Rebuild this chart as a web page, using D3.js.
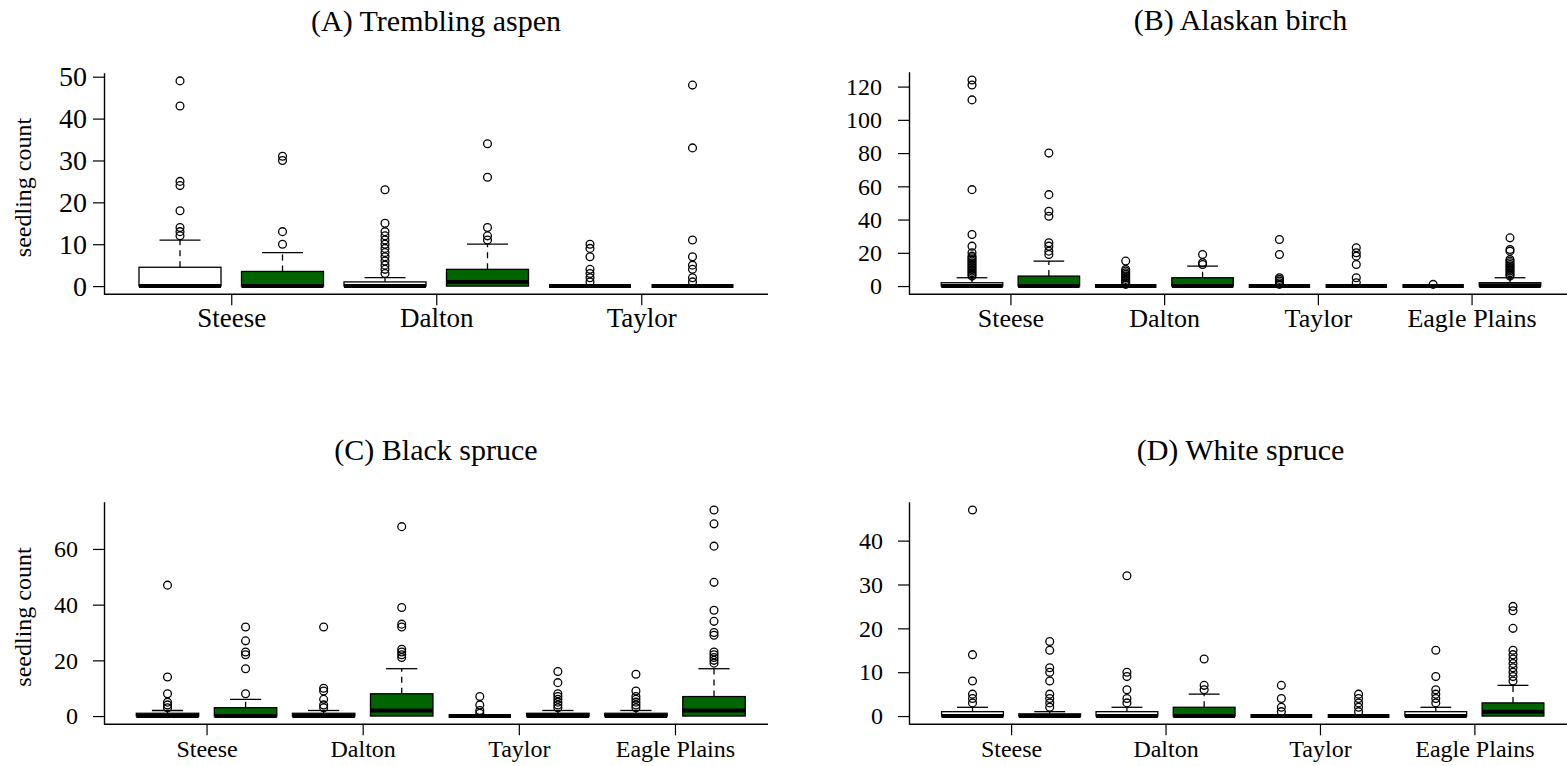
<!DOCTYPE html>
<html>
<head>
<meta charset="utf-8">
<script src="https://cdn.jsdelivr.net/npm/d3@7"></script>
<style>
  body { margin: 0; background: #fff; }
  svg { display: block; font-family: "Liberation Serif", "Times New Roman", serif; }
</style>
</head>
<body>
<svg id="chart" width="1567" height="766"></svg>
<script>
// 1. DATA -------------------------------------------------------------
// every site has two boxes: white first, then green
const sites3 = ["Steese", "Dalton", "Taylor"];
const sites4 = ["Steese", "Dalton", "Taylor", "Eagle Plains"];

// (A) Trembling aspen
const aspenTicks = [0, 10, 20, 30, 40, 50];
const aspenQ1  = [0, 0, 0, 0, 0, 0];
const aspenMed = [0, 0, 0, 1, 0, 0];
const aspenQ3  = [4.5, 3.5, 1, 4, 0, 0];
const aspenHi  = [11, 8, 2, 10, 0, 0];
const aspenOut = [
  [12, 13, 14, 18, 24, 25, 43, 49],
  [10, 13, 30, 31],
  [3, 4, 5, 6, 7, 8, 9, 10, 11, 12, 13, 15, 23],
  [11, 12, 14, 26, 34],
  [1, 2, 3, 4, 7, 9, 10],
  [1, 2, 4, 5, 7, 11, 33, 48]
];

// (B) Alaskan birch
const birchTicks = [0, 20, 40, 60, 80, 100, 120];
const birchQ1  = [0, 0, 0, 0, 0, 0, 0, 0];
const birchMed = [0, 0, 0, 0, 0, 0, 0, 0];
const birchQ3  = [2, 6, 0, 5, 0, 0, 0, 2];
const birchHi  = [5, 15, 0, 12, 0, 0, 0, 5];
const birchOut = [
  [6, 7, 8, 9, 10, 11, 12, 13, 14, 15, 16, 17, 18, 20, 24, 31, 58, 112, 121, 124],
  [19, 21, 24, 26, 42, 45, 55, 80],
  [1, 2, 3, 4, 5, 6, 7, 8, 9, 10, 15],
  [13, 14, 19],
  [1, 2, 3, 4, 5, 19, 28],
  [2, 5, 13, 18, 20, 23],
  [1],
  [6, 7, 8, 9, 10, 11, 12, 13, 14, 15, 16, 21, 22, 29]
];

// (C) Black spruce
const blackTicks = [0, 20, 40, 60];
const blackQ1  = [0, 0, 0, 0, 0, 0, 0, 0];
const blackMed = [0, 0, 0, 2, 0, 0, 0, 2];
const blackQ3  = [1, 3, 1, 8, 0, 1, 1, 7];
const blackHi  = [2, 6, 2, 17, 0, 2, 2, 17];
const blackOut = [
  [3, 4, 5, 8, 14, 47],
  [8, 17, 22, 23, 27, 32],
  [3, 4, 6, 9, 10, 32],
  [21, 22, 23, 24, 32, 33, 39, 68],
  [1, 2, 4, 7],
  [3, 4, 5, 6, 7, 8, 12, 16],
  [3, 4, 5, 6, 7, 9, 15],
  [19, 20, 21, 22, 23, 29, 30, 34, 38, 48, 61, 69, 74]
];

// (D) White spruce
const whiteTicks = [0, 10, 20, 30, 40];
const whiteQ1  = [0, 0, 0, 0, 0, 0, 0, 0];
const whiteMed = [0, 0, 0, 0, 0, 0, 0, 1];
const whiteQ3  = [1, 0.5, 1, 2, 0, 0, 1, 3];
const whiteHi  = [2, 1, 2, 5, 0, 0, 2, 7];
const whiteOut = [
  [3, 4, 5, 8, 14, 47],
  [2, 3, 4, 5, 8, 10, 11, 15, 17],
  [3, 4, 6, 9, 10, 32],
  [6, 7, 13],
  [1, 2, 4, 7],
  [1, 2, 3, 4, 5],
  [3, 4, 5, 6, 9, 15],
  [8, 9, 10, 11, 12, 13, 14, 15, 20, 24, 25]
];

// 2. PANEL LAYOUT -----------------------------------------------------
const fills = ["white", "#006400"];
const panels = [
  { title: "(A) Trembling aspen", sites: sites3, ticks: aspenTicks,
    q1: aspenQ1, med: aspenMed, q3: aspenQ3, hi: aspenHi, out: aspenOut,
    left: 104, right: 768, first: 180, last: 692.5, top: 72.7, bottom: 294.3,
    ylab: true, tickFont: 28, tickPad: 6, labFont: 27 },
  { title: "(B) Alaskan birch", sites: sites4, ticks: birchTicks,
    q1: birchQ1, med: birchMed, q3: birchQ3, hi: birchHi, out: birchOut,
    left: 909, right: 1572, first: 972, last: 1510, top: 71.7, bottom: 294.3,
    ylab: false, tickFont: 24, tickPad: 16, labFont: 26 },
  { title: "(C) Black spruce", sites: sites4, ticks: blackTicks,
    q1: blackQ1, med: blackMed, q3: blackQ3, hi: blackHi, out: blackOut,
    left: 104, right: 768, first: 167.5, last: 714, top: 501.7, bottom: 724.3,
    ylab: true, tickFont: 24, tickPad: 15, labFont: 24 },
  { title: "(D) White spruce", sites: sites4, ticks: whiteTicks,
    q1: whiteQ1, med: whiteMed, q3: whiteQ3, hi: whiteHi, out: whiteOut,
    left: 909, right: 1572, first: 972.5, last: 1513, top: 501.7, bottom: 724.3,
    ylab: false, tickFont: 24, tickPad: 15, labFont: 24 }
];

const svg = d3.select("#chart");

panels.forEach(p => {
  const n = p.q3.length;
  const g = svg.append("g");

  const yMax = d3.max(p.out, d => d3.max(d));
  const y = d3.scaleLinear()
      .domain([-0.04 * yMax, 1.04 * yMax])
      .range([p.bottom, p.top]);

  const x = d3.scaleLinear()
      .domain([1, n])
      .range([p.first, p.last]);

  const unit = (p.last - p.first) / (n - 1);
  const bw = unit * 0.8;

  // y axis (its domain line doubles as the left frame line)
  const yAxis = g.append("g")
      .attr("transform", `translate(${p.left},0)`)
      .call(d3.axisLeft(y).tickValues(p.ticks).tickSize(11).tickPadding(p.tickPad).tickSizeOuter(0))
      .attr("font-family", null).attr("font-size", null);
  yAxis.select(".domain").attr("stroke-width", 1.4);
  yAxis.selectAll(".tick line").attr("stroke-width", 1.2);
  yAxis.selectAll("text").style("font-size", p.tickFont + "px").attr("fill", "#000");

  // bottom frame line + site ticks
  g.append("line")
      .attr("x1", p.left).attr("x2", p.right)
      .attr("y1", p.bottom).attr("y2", p.bottom)
      .attr("stroke", "#000").attr("stroke-width", 1.4);

  const xAxis = g.append("g")
      .attr("transform", `translate(0,${p.bottom})`)
      .call(d3.axisBottom(x)
        .tickValues(p.sites.map((s, i) => 1.5 + 2 * i))
        .tickFormat((d, i) => p.sites[i])
        .tickSize(11))
      .attr("font-family", null).attr("font-size", null);
  xAxis.select(".domain").remove();
  xAxis.selectAll(".tick line").attr("stroke-width", 1.2);
  xAxis.selectAll("text")
      .attr("y", 32.6).attr("dy", 0)
      .style("font-size", p.labFont + "px").attr("fill", "#000");

  // title
  g.append("text")
      .attr("x", (p.left + p.right) / 2)
      .attr("y", p.top - 42)
      .attr("text-anchor", "middle")
      .style("font-size", "30px")
      .text(p.title);

  if (p.ylab) {
    g.append("text")
      .attr("transform", `translate(31,${(p.top + p.bottom) / 2 + 4}) rotate(-90)`)
      .attr("text-anchor", "middle")
      .style("font-size", "24px")
      .text("seedling count");
  }

  // boxes
  const idx = d3.range(n);
  const box = g.selectAll(".box").data(idx).enter().append("g").attr("class", "box");

  // upper whisker (dashed) and staple
  box.append("line")
      .attr("x1", i => x(i + 1)).attr("x2", i => x(i + 1))
      .attr("y1", i => y(p.q3[i])).attr("y2", i => y(p.hi[i]))
      .attr("stroke", "#000").attr("stroke-width", 1.3)
      .attr("stroke-dasharray", "6,5");
  box.append("line")
      .attr("x1", i => x(i + 1) - bw / 4).attr("x2", i => x(i + 1) + bw / 4)
      .attr("y1", i => y(p.hi[i])).attr("y2", i => y(p.hi[i]))
      .attr("stroke", "#000").attr("stroke-width", 1.3);

  box.append("rect")
      .attr("x", i => x(i + 1) - bw / 2)
      .attr("width", bw)
      .attr("y", i => y(p.q3[i]))
      .attr("height", i => y(p.q1[i]) - y(p.q3[i]))
      .attr("fill", i => fills[i % 2])
      .attr("stroke", "#000").attr("stroke-width", 1.3);

  box.append("line")
      .attr("x1", i => x(i + 1) - bw / 2).attr("x2", i => x(i + 1) + bw / 2)
      .attr("y1", i => y(p.med[i])).attr("y2", i => y(p.med[i]))
      .attr("stroke", "#000").attr("stroke-width", 4);

  // outliers
  box.selectAll("circle")
      .data(i => p.out[i].map(v => ({ i, v })))
      .enter().append("circle")
      .attr("cx", d => x(d.i + 1))
      .attr("cy", d => y(d.v))
      .attr("r", 3.9)
      .attr("fill", "none")
      .attr("stroke", "#000").attr("stroke-width", 1.3);
});
</script>
</body>
</html>
